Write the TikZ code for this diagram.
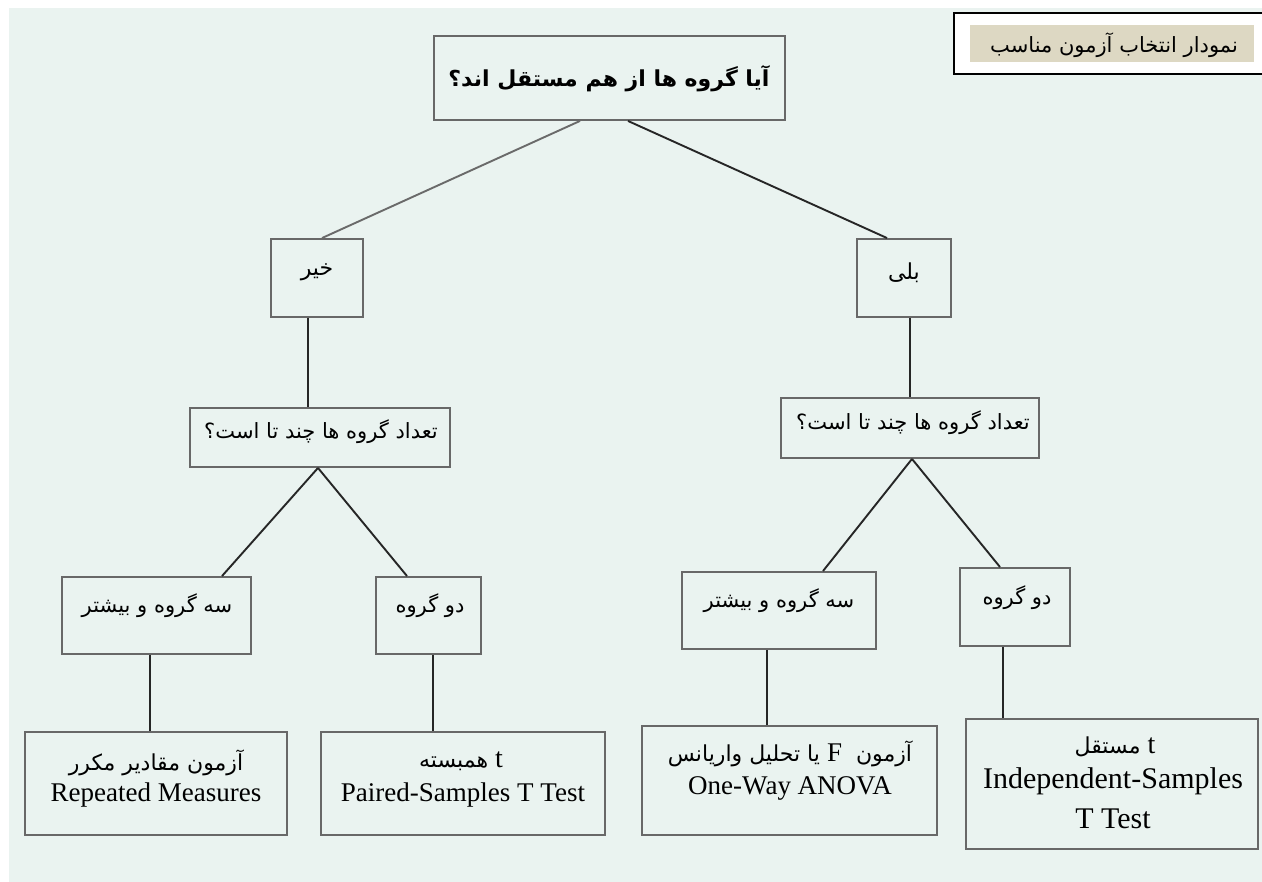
\documentclass[tikz,border=0pt]{standalone}
\usepackage{fontspec}
\setmainfont{Liberation Serif}
\newfontfamily\fafont[Script=Arabic]{DejaVu Sans}
\TeXXeTstate=1
\definecolor{bg}{HTML}{EAF3F0}
\definecolor{bx}{HTML}{686868}
\definecolor{ln}{HTML}{262626}
\definecolor{lnlight}{HTML}{6A6A6A}
\definecolor{beige}{HTML}{DDD8C3}
\newcommand\fasz[1]{\fafont\fontsize{#1pt}{#1pt}\selectfont}
\newcommand\ensz[1]{\fontsize{#1pt}{#1pt}\selectfont}
\begin{document}
\begin{tikzpicture}[x=1pt,y=-1pt,
  box/.style={draw=bx, line width=1.9pt, inner sep=0pt},
  conn/.style={draw=ln, line width=1.9pt},
  lbl/.style={inner sep=0pt, text=black}]
\useasboundingbox (0,0) rectangle (1262,882);
\clip (0,0) rectangle (1262,882);
\fill[bg] (9,8) rectangle (1262,882);

% title
\node[draw=black, line width=2.2pt, fill=white, minimum width=320pt, minimum height=61pt] (titlebox) at (1114,43.5) {};
\node[fill=beige, inner sep=0pt, minimum width=284pt, minimum height=37pt] (titlefill) at (1112,43.5) {};
\node[lbl] (titletext) at (1114,45) {\fasz{21}\beginR نمودار انتخاب آزمون مناسب\endR};

% boxes
\node[box, minimum width=351pt, minimum height=84pt] (top) at (609.5,78) {};
\node[box, minimum width=92pt, minimum height=78pt] (khair) at (317,278) {};
\node[box, minimum width=94pt, minimum height=78pt] (beli) at (904,278) {};
\node[box, minimum width=260pt, minimum height=59pt] (qL) at (320,437.5) {};
\node[box, minimum width=258pt, minimum height=60pt] (qR) at (910,428) {};
\node[box, minimum width=189pt, minimum height=77pt] (L1) at (156.5,615.5) {};
\node[box, minimum width=105pt, minimum height=77pt] (L2) at (428.5,615.5) {};
\node[box, minimum width=194pt, minimum height=77pt] (R1) at (779,610.5) {};
\node[box, minimum width=110pt, minimum height=78pt] (R2) at (1015,607) {};
\node[box, minimum width=262pt, minimum height=103pt] (leafA) at (156,783.5) {};
\node[box, minimum width=284pt, minimum height=103pt] (leafB) at (463,783.5) {};
\node[box, minimum width=295pt, minimum height=109pt] (leafC) at (789.5,780.5) {};
\node[box, minimum width=292pt, minimum height=130pt] (leafD) at (1112,784) {};

% texts
\node[lbl] (toptext) at (609,79) {\fasz{22}\bfseries\beginR آیا گروه ها از هم مستقل اند؟\endR};
\node[lbl] (khairtext) at (317,272) {\fasz{22}\beginR خیر\endR};
\node[lbl] (belitext) at (904,273) {\fasz{22}\beginR بلی\endR};
\node[lbl] (qLtext) at (321,432) {\fasz{21}\beginR تعداد گروه ها چند تا است؟\endR};
\node[lbl] (qRtext) at (913,423) {\fasz{21}\beginR تعداد گروه ها چند تا است؟\endR};
\node[lbl] (L1text) at (157,606) {\fasz{21}\beginR سه گروه و بیشتر\endR};
\node[lbl] (L2text) at (430,606) {\fasz{21}\beginR دو گروه\endR};
\node[lbl] (R1text) at (779,601) {\fasz{21}\beginR سه گروه و بیشتر\endR};
\node[lbl] (R2text) at (1017,598) {\fasz{21}\beginR دو گروه\endR};
\node[lbl] (leafAfa) at (156,763) {\fasz{22}\beginR آزمون مقادیر مکرر\endR};
\node[lbl] (leafAen) at (156,795) {\ensz{27}Repeated Measures};
\node[lbl] (leafBfa) at (461,761) {\fasz{22}\beginR {\rmfamily\ensz{28}t} همبسته\endR};
\node[lbl] (leafBen) at (463,795) {\ensz{27}Paired-Samples T Test};
\node[lbl] (leafCfa) at (790,754) {\fasz{22}\beginR آزمون \ {\rmfamily\ensz{27}F} یا تحلیل واریانس\endR};
\node[lbl] (leafCen) at (790,788) {\ensz{27}One-Way ANOVA};
\node[lbl] (leafDfa) at (1115,747) {\fasz{22}\beginR {\rmfamily\ensz{28}t} مستقل\endR};
\node[lbl] (leafDen1) at (1113,781) {\ensz{30}Independent-Samples};
\node[lbl] (leafDen2) at (1113,819) {\ensz{30}T Test};

% connectors
\draw[conn, draw=lnlight] ([xshift=-29.5pt]top.south) -- ([xshift=5pt]khair.north);
\draw[conn] ([xshift=18.5pt]top.south) -- ([xshift=-17pt]beli.north);
\draw[conn] ([xshift=-9pt]khair.south) -- ([xshift=-9pt]khair.south |- qL.north);
\draw[conn] ([xshift=6pt]beli.south) -- ([xshift=6pt]beli.south |- qR.north);
\draw[conn] ([xshift=-2pt]qL.south) -- ([xshift=65.5pt]L1.north);
\draw[conn] ([xshift=-2pt]qL.south) -- ([xshift=-21.5pt]L2.north);
\draw[conn] ([xshift=2pt]qR.south) -- ([xshift=44pt]R1.north);
\draw[conn] ([xshift=2pt]qR.south) -- ([xshift=-15pt]R2.north);
\draw[conn] ([xshift=-6.5pt]L1.south) -- ([xshift=-6.5pt]L1.south |- leafA.north);
\draw[conn] ([xshift=4.5pt]L2.south) -- ([xshift=4.5pt]L2.south |- leafB.north);
\draw[conn] ([xshift=-12pt]R1.south) -- ([xshift=-12pt]R1.south |- leafC.north);
\draw[conn] ([xshift=-12pt]R2.south) -- ([xshift=-12pt]R2.south |- leafD.north);
\end{tikzpicture}
\end{document}
